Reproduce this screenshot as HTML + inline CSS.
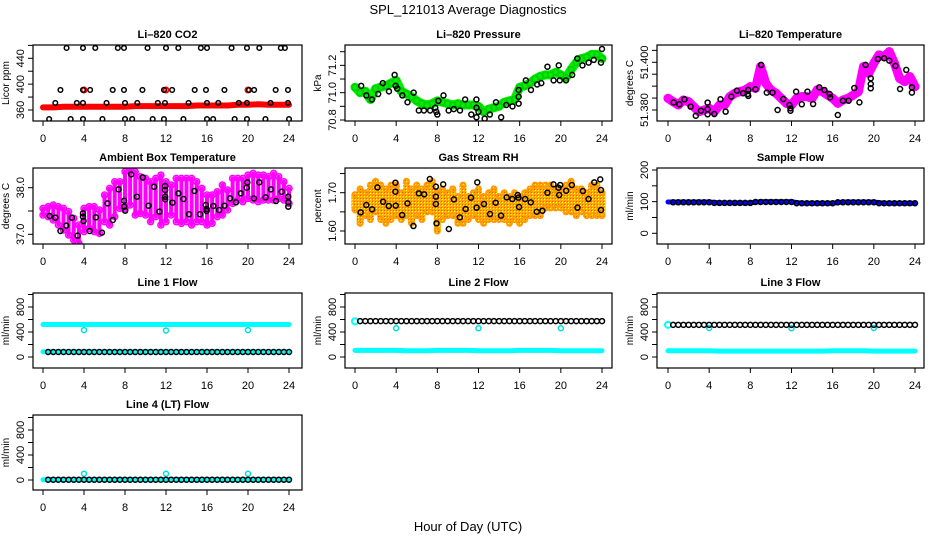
<!DOCTYPE html>
<html><head><meta charset="utf-8"><style>
html,body{margin:0;padding:0;background:#fff;}
svg{display:block;font-family:"Liberation Sans",Arial,sans-serif;}
</style></head><body>
<svg id="chart" width="936" height="540" viewBox="0 0 936 540" xmlns="http://www.w3.org/2000/svg">
<defs>
<pattern id="rhpat" width="3" height="3" patternUnits="userSpaceOnUse"><rect width="3" height="3" fill="#ffaa00"/><rect x="1" y="1" width="1" height="1" fill="#ffff33"/><rect x="0" y="0" width="1" height="1" fill="#ff5500"/></pattern>
</defs>
<text x="468" y="14" text-anchor="middle" font-size="13">SPL_121013  Average Diagnostics</text>
<text x="468" y="531" text-anchor="middle" font-size="13">Hour of Day (UTC)</text>
</svg>
<script>
// ---------- data ----------
const xTicks = [0,4,8,12,16,20,24];
// CO2
const co2RedT = [0,1,2,3,4,5,6,7,8,9,10,11,12,13,14,15,16,17,18,19,20,21,22,23,24];
const co2RedV = [364,364,365,365,365,365,365,365,365,366,366,366,366,366,366,367,367,367,367,368,368,369,368,368,368];
const co2RedSpikeT = [4,12,20];
const co2RedSpikeV = [391,391,391];
const co2BlackT = [0.6,2.7,3.9,5.8,8.0,8.7,10.7,11.8,13.7,16.0,16.6,18.7,19.9,21.7,24.0,
 1.2,3.3,3.9,6.2,8.0,9.2,11.2,11.9,14.2,16.0,17.1,19.1,19.9,22.2,23.9,
 1.7,3.9,4.6,6.8,7.9,9.7,11.8,12.6,14.8,15.9,17.7,20.1,20.6,22.7,23.9,
 2.3,3.9,5.1,7.3,7.9,10.2,12.0,13.2,15.4,16.0,18.4,19.9,21.1,23.2,23.6];
const co2BlackV = [346,346,346,346,346,346,346,346,346,346,346,346,346,346,346,
 371,371,371,371,371,371,371,371,371,371,371,371,371,371,371,
 391,391,391,391,391,391,391,391,391,391,391,391,391,391,391,
 456,456,456,456,456,456,456,456,456,456,456,456,456,456,456];
const co2Ticks = [360,380,400,420,440,460];
const co2Labels = ['360','','400','','440',''];
// Pressure
const presGreenT = [0,0.5,1,1.5,2,2.5,3,3.5,4,4.5,5,5.5,6,6.5,7,7.5,8,8.5,9,9.5,10,10.5,11,11.5,12,12.5,13,13.5,14,14.5,15,15.5,16,16.5,17,17.5,18,18.5,19,19.5,20,20.5,21,21.5,22,22.5,23,23.5,24];
const presGreenV = [71.04,71.0,71.01,70.95,71.03,71.04,71.05,71.07,71.09,71.01,70.99,70.97,70.94,70.92,70.91,70.92,70.94,70.93,70.92,70.91,70.92,70.91,70.91,70.91,70.90,70.86,70.88,70.89,70.90,70.93,70.94,70.95,71.04,71.05,71.07,71.10,71.12,71.13,71.13,71.15,71.13,71.11,71.17,71.22,71.25,71.26,71.28,71.28,71.25];
const presBlackT = [0.6,1.1,1.65,2.25,2.7,3.3,3.85,3.95,4.1,4.6,5.1,5.7,6.2,6.7,7.3,7.8,7.9,8.0,8.1,8.6,9.1,9.6,10.2,10.7,11.3,11.8,11.8,11.8,12.0,12.6,13.1,13.7,14.2,14.7,15.3,15.9,15.9,15.9,16.6,17.1,17.7,18.1,18.7,19.3,19.8,19.9,20.5,21.1,21.6,22.1,22.7,23.2,23.9,24.0];
const presBlackV = [71.05,70.98,70.95,70.99,71.07,71.01,71.13,71.05,71.03,70.98,70.93,71.0,70.87,70.87,70.87,70.89,70.86,70.84,70.94,70.98,70.87,70.88,70.87,70.95,70.84,70.95,70.89,70.82,70.86,70.81,70.84,70.93,70.82,70.91,70.90,70.97,70.92,71.02,71.09,71.02,71.06,71.07,71.19,71.09,71.20,71.09,71.09,71.13,71.25,71.20,71.22,71.24,71.22,71.32];
const presTicks = [70.8,70.9,71.0,71.1,71.2,71.3];
const presLabels = ['70.8','','71.0','','71.2',''];
// Li-820 temperature
const tempMagT = presGreenT;
const tempMagV = [51.3849,51.3835,51.3821,51.3842,51.3835,51.3814,51.3793,51.38,51.3807,51.3793,51.3821,51.3821,51.3856,51.387,51.3877,51.3884,51.3898,51.3891,51.3982,51.3912,51.3884,51.387,51.3849,51.3828,51.3821,51.3849,51.3856,51.3856,51.3849,51.3884,51.3877,51.3863,51.3849,51.3828,51.3842,51.3849,51.3863,51.3877,51.3982,51.3954,51.3996,51.4031,51.4024,51.4045,51.3996,51.3933,51.3919,51.394,51.3898];
const tempBlackT = [0.55,1.1,1.6,2.2,2.7,3.2,3.85,3.85,3.85,4.5,5.1,5.6,6.15,6.7,7.3,7.75,7.8,7.8,8.5,9.05,9.6,10.15,10.65,11.2,11.8,11.9,11.9,12.45,13.0,13.55,14.1,14.7,15.2,15.7,15.75,16.5,17.0,17.55,18.1,18.6,19.2,19.7,19.7,19.7,20.4,21.0,21.5,22.1,22.55,23.15,23.7,23.7];
const tempBlackV = [51.3832,51.3824,51.3845,51.3814,51.3776,51.3797,51.3831,51.3803,51.3782,51.3783,51.3845,51.3793,51.3856,51.3881,51.387,51.3867,51.3884,51.3859,51.3887,51.3989,51.3873,51.3873,51.38,51.3846,51.3821,51.3807,51.3797,51.3877,51.3824,51.3877,51.3825,51.3895,51.3884,51.3867,51.3853,51.3779,51.3839,51.3839,51.3892,51.3832,51.3989,51.3933,51.3909,51.3891,51.4014,51.4017,51.4007,51.3985,51.3888,51.3968,51.3895,51.3873];
const tempTicks = [51.380,51.385,51.390,51.395,51.400,51.405];
const tempLabels = ['51.380','','','','51.400',''];
// Ambient box temperature
const ambT = presGreenT;
const ambHi = [37.557,37.593,37.629,37.593,37.557,37.486,37.343,37.2,37.557,37.593,37.593,37.521,37.843,37.986,38.129,38.129,38.343,38.4,38.343,38.236,38.2,38.129,38.2,38.271,38.129,38.057,38.2,38.2,38.2,38.2,38.129,37.986,37.843,37.843,37.914,38.057,37.95,38.2,38.2,38.2,38.271,38.307,38.271,38.271,38.236,38.307,38.236,38.129,37.986];
const ambLo = [37.414,37.379,37.307,37.2,37.093,36.986,36.879,36.807,37.057,37.129,37.057,37.021,37.271,37.2,37.379,37.557,37.557,37.629,37.414,37.45,37.414,37.271,37.379,37.2,37.271,37.414,37.271,37.236,37.271,37.2,37.271,37.271,37.2,37.236,37.379,37.414,37.521,37.664,37.736,37.7,37.771,37.736,37.7,37.736,37.736,37.736,37.771,37.736,37.664];
const ambBlackT = [0.65,1.2,1.7,2.27,2.82,3.38,3.9,3.9,3.96,4.55,5.16,5.75,6.3,6.82,7.37,7.92,7.92,8.02,8.6,9.16,9.74,10.3,10.84,11.36,11.92,11.92,11.92,11.92,12.63,13.21,13.7,14.25,14.77,15.32,15.88,15.97,15.97,16.62,17.18,17.7,18.25,18.83,19.3,19.87,19.94,20.58,21.1,21.72,22.24,22.73,23.28,23.93,23.93,23.93];
const ambBlackV = [37.393,37.357,37.071,37.186,37.357,36.971,37.45,37.379,37.286,37.071,37.364,37.036,37.664,37.307,37.964,37.721,37.593,37.507,38.286,37.807,38.221,37.614,38.021,37.486,38.036,37.95,37.807,37.75,37.679,37.879,37.757,37.429,37.929,37.429,37.629,37.543,37.5,37.607,37.521,37.614,37.771,37.686,37.879,38.0,38.114,37.771,38.114,37.793,37.964,37.714,37.914,37.807,37.686,37.593];
const ambTicks = [37.0,37.5,38.0];
const ambLabels = ['37.0','','38.0'];
// Gas stream RH
const rhT = presGreenT;
const rhHi = [1.695,1.71,1.70,1.72,1.73,1.72,1.71,1.72,1.72,1.70,1.73,1.71,1.72,1.71,1.72,1.73,1.70,1.71,1.70,1.71,1.69,1.72,1.69,1.70,1.71,1.69,1.70,1.71,1.69,1.70,1.69,1.70,1.69,1.70,1.71,1.72,1.72,1.72,1.72,1.71,1.71,1.72,1.73,1.71,1.71,1.70,1.72,1.72,1.70];
const rhLo = [1.655,1.62,1.64,1.63,1.65,1.63,1.62,1.63,1.64,1.63,1.64,1.62,1.64,1.63,1.65,1.65,1.60,1.63,1.64,1.64,1.62,1.62,1.63,1.64,1.63,1.62,1.63,1.63,1.63,1.63,1.62,1.63,1.62,1.63,1.64,1.64,1.64,1.66,1.66,1.66,1.66,1.65,1.65,1.64,1.65,1.64,1.64,1.64,1.64];
const rhBlackT = [0.55,1.1,1.66,2.18,2.73,3.28,3.93,3.93,3.96,4.58,5.1,5.68,6.2,6.72,7.27,7.86,7.86,7.86,7.92,8.57,9.12,9.61,10.19,10.75,11.27,11.82,11.88,12.53,13.12,13.67,14.19,14.74,15.29,15.81,15.88,15.94,16.53,17.08,17.66,18.21,18.7,19.29,19.77,19.84,19.94,20.52,21.07,21.62,22.14,22.69,23.25,23.83,23.9,23.9];
const rhBlackV = [1.6487,1.6678,1.6565,1.7139,1.6765,1.6652,1.7261,1.7026,1.6661,1.6417,1.6722,1.613,1.6983,1.6957,1.7357,1.7157,1.6896,1.6704,1.62,1.7217,1.6052,1.6826,1.6357,1.6574,1.687,1.6609,1.727,1.6704,1.6443,1.6739,1.64,1.6878,1.6835,1.6939,1.687,1.6626,1.6835,1.6748,1.6504,1.653,1.70,1.7217,1.713,1.6939,1.72,1.7052,1.72,1.6609,1.7043,1.6835,1.727,1.7348,1.707,1.6548];
const rhTicks = [1.60,1.65,1.70,1.75];
const rhLabels = ['1.60','','1.70',''];
// flows
const hourT = [0,1,2,3,4,5,6,7,8,9,10,11,12,13,14,15,16,17,18,19,20,21,22,23,24];
const flowT = [0.5,1,1.5,2,2.5,3,3.5,4,4.5,5,5.5,6,6.5,7,7.5,8,8.5,9,9.5,10,10.5,11,11.5,12,12.5,13,13.5,14,14.5,15,15.5,16,16.5,17,17.5,18,18.5,19,19.5,20,20.5,21,21.5,22,22.5,23,23.5,24];
const sampleBlue = [99,99,99,99,99,96,96,96,96,100,100,100,100,95,95,95,95,99,99,99,99,95,95,95,95];
const sampleBlack = [98,98,98,98,98,98,98,98,96,96,96,96,96,96,96,96,99,99,99,99,99,99,99,99,95,95,95,95,95,95,95,95,98,98,98,98,98,98,98,98,95,95,95,95,95,95,95,95];
const sampleTicks = [0,50,100,150,200];
const sampleLabels = ['0','','100','','200'];
const flowTicks = [0,200,400,600,800,1000];
const flowLabels = ['0','','400','','800',''];
const dipT = [4,12,20];
const line1CyanHi = [520,520,520,520,520,520,520,520,520,520,520,520,520,520,520,520,520,520,520,520,520,520,520,520,520];
const line1CyanLo = [85,85,85,85,85,85,85,85,85,85,85,85,85,85,85,85,85,85,85,85,85,85,85,85,85];
const line1Dip = [430,425,430];
const line1Black = [80,80,80,80,80,80,80,80,80,80,80,80,80,80,80,80,80,80,80,80,80,80,80,80,80,80,80,80,80,80,80,80,80,80,80,80,80,80,80,80,80,80,80,80,80,80,80,80];
const line2CyanLo = [105,105,105,105,105,100,100,100,105,105,105,105,100,100,100,100,105,105,105,105,100,100,100,100,100];
const line2Start = [570];
const line2Dip = [460,460,460];
const line2Black = [575,575,575,575,575,575,575,575,575,575,575,575,575,575,575,575,575,575,575,575,575,575,575,575,575,575,575,575,575,575,575,575,575,575,575,575,575,575,575,575,575,575,575,575,575,575,575,575];
const line3CyanLo = [100,100,100,100,100,95,95,95,95,95,95,95,95,95,95,95,100,100,100,100,95,95,95,95,95];
const line3Start = [515];
const line3Dip = [465,460,465];
const line3Black = [515,515,515,515,515,515,515,515,515,515,515,515,515,515,515,515,515,515,515,515,515,515,515,515,515,515,515,515,515,515,515,515,515,515,515,515,515,515,515,515,515,515,515,515,515,515,515,515];
const line4Cyan = [5,5,5,5,5,5,5,5,5,5,5,5,5,5,5,5,5,5,5,5,5,5,5,5,5];
const line4Peak = [100,100,100];
const line4Black = [5,5,5,5,5,5,5,5,5,5,5,5,5,5,5,5,5,5,5,5,5,5,5,5,5,5,5,5,5,5,5,5,5,5,5,5,5,5,5,5,5,5,5,5,5,5,5,5];

// ---------- layout ----------
const NS = 'http://www.w3.org/2000/svg';
const svg = document.getElementById('chart');
const cols = [{l:33,r:302,x0:43,x24:289},{l:345,r:612,x0:355,x24:602},{l:657,r:924,x0:668,x24:915}];
const rows = [{t:45,b:121},{t:168,b:244},{t:293,b:368},{t:415,b:490}];

function mk(tag, attrs, parent){
  const el = document.createElementNS(NS, tag);
  for (const k in attrs) el.setAttribute(k, attrs[k]);
  (parent||svg).appendChild(el);
  return el;
}

function panel(name, title, ylab, c, r, v1, y1, v2, y2, ticks, labels){
  const C = cols[c], R = rows[r];
  const g = mk('g', {});
  
  
  const xs = h => C.x0 + (C.x24 - C.x0) * h / 24;
  const ys = v => y1 + (v - v1) * (y2 - y1) / (v2 - v1);
  const clip = 'clip-' + name;
  const cp = mk('clipPath', {id: clip}, g);
  mk('rect', {x: C.l, y: R.t, width: C.r - C.l, height: R.b - R.t}, cp);
  const data = mk('g', {'clip-path': 'url(#' + clip + ')'}, g);
  
  
  const frame = mk('rect', {x: C.l, y: R.t, width: C.r - C.l, height: R.b - R.t, fill: 'none', stroke: '#000', 'stroke-width': 1.2}, g);
  
  
  const t = mk('text', {x: (C.l + C.r) / 2, y: R.t - 7, 'text-anchor': 'middle', 'font-size': 11, 'font-weight': 'bold'}, g);
  t.textContent = title;
  
  
  const yl = mk('text', {transform: 'translate(' + (C.l - 24) + ',' + ((R.t + R.b) / 2) + ') rotate(-90)', 'text-anchor': 'middle', 'font-size': 10}, g);
  yl.textContent = ylab;
  
  
  xTicks.forEach(h => {
    const x = xs(h);
    const tk = mk('line', {x1: x, x2: x, y1: R.b, y2: R.b + 5, stroke: '#000'}, g);
    
    
    const lb = mk('text', {x: x, y: R.b + 21, 'text-anchor': 'middle', 'font-size': 11}, g);
    lb.textContent = h;
    
    
  });
  ticks.forEach((v, i) => {
    const y = ys(v);
    if (y < R.t - 0.5 || y > R.b + 0.5) return;
    const tk = mk('line', {x1: C.l - 5, x2: C.l, y1: y, y2: y, stroke: '#000'}, g);
    
    
    if (labels[i]) {
      const lb = mk('text', {transform: 'translate(' + (C.l - 9) + ',' + y + ') rotate(-90)', 'text-anchor': 'middle', 'font-size': 11}, g);
      lb.textContent = labels[i];
      
      
    }
  });
  return {g: data, xs, ys};
}

function pts(P, T, V, color, rad, sw, nm){
  T.forEach((h, i) => {
    const el = mk('circle', {cx: P.xs(h), cy: P.ys(V[i]), r: rad, fill: 'none', stroke: color, 'stroke-width': sw}, P.g);
    
    
  });
}
function band(P, T, V, color, w, nm){
  const d = T.map((h, i) => (i ? 'L' : 'M') + P.xs(h).toFixed(1) + ',' + P.ys(V[i]).toFixed(1)).join('');
  const el = mk('path', {d: d, fill: 'none', stroke: color, 'stroke-width': w, 'stroke-linejoin': 'round', 'stroke-linecap': 'round'}, P.g);
  
  
}
function range(P, T, H, L, color, w, nm){
  T.forEach((h, i) => {
    const el = mk('line', {x1: P.xs(h), x2: P.xs(h), y1: P.ys(H[i]), y2: P.ys(L[i]), stroke: color, 'stroke-width': w, 'stroke-linecap': 'round'}, P.g);
    
    
  });
}

// CO2
let P = panel('co2-panel', 'Li\u2013820 CO2', 'Licor ppm', 0, 0, 360, 110, 440, 58.3, co2Ticks, co2Labels);
band(P, co2RedT, co2RedV, '#ff0000', 6, 'co2-red-series');
pts(P, co2RedSpikeT, co2RedSpikeV, '#ff0000', 2.5, 2, 'co2-red-point');
pts(P, co2BlackT, co2BlackV, '#000', 2.3, 1.5, 'co2-black-point');

// Pressure
P = panel('pressure-panel', 'Li\u2013820 Pressure', 'kPa', 1, 0, 70.8, 120, 71.3, 51.7, presTicks, presLabels);
band(P, presGreenT, presGreenV, '#00ee00', 9, 'pressure-green-band');
pts(P, presGreenT, presGreenV, '#00cc00', 3, 1.5, 'pressure-green-point');
pts(P, presBlackT, presBlackV, '#000', 2.5, 1.5, 'pressure-black-point');

// Temperature
P = panel('li820-temp-panel', 'Li\u2013820 Temperature', 'degrees C', 2, 0, 51.38, 110, 51.40, 62.3, tempTicks, tempLabels);
band(P, tempMagT, tempMagV, '#ff00ff', 9, 'temp-magenta-band');
pts(P, tempMagT, tempMagV, '#ff00ff', 3.5, 2, 'temp-magenta-point');
pts(P, tempBlackT, tempBlackV, '#000', 2.5, 1.5, 'temp-black-point');

// Ambient
P = panel('ambient-panel', 'Ambient Box Temperature', 'degrees C', 0, 1, 37.0, 234.3, 38.0, 187.7, ambTicks, ambLabels);
range(P, ambT, ambHi, ambLo, '#ff00ff', 4, 'ambient-magenta-range');
pts(P, ambT, ambHi, '#ff00ff', 3, 1.5, 'ambient-magenta-point');
pts(P, ambT, ambLo, '#ff00ff', 3, 1.5, 'ambient-magenta-point');
pts(P, ambBlackT, ambBlackV, '#000', 2.5, 1.5, 'ambient-black-point');

// RH
P = panel('rh-panel', 'Gas Stream RH', 'percent', 1, 1, 1.60, 231, 1.70, 192.7, rhTicks, rhLabels);
range(P, rhT, rhHi, rhLo, 'url(#rhpat)', 7, 'rh-orange-range');
pts(P, rhT, rhHi, '#ff9900', 2.5, 1.5, 'rh-orange-point');
pts(P, rhT, rhLo, '#ff9900', 2.5, 1.5, 'rh-orange-point');
pts(P, rhBlackT, rhBlackV, '#000', 2.5, 1.5, 'rh-black-point');

// Sample flow
P = panel('sample-flow-panel', 'Sample Flow', 'ml/min', 2, 1, 0, 233.3, 200, 170, sampleTicks, sampleLabels);
band(P, hourT, sampleBlue, '#0000ff', 5, 'sample-flow-blue-band');
pts(P, flowT, sampleBlack, '#000', 2.5, 1.5, 'sample-flow-black-point');

// Line flows
function flowPanel(name, title, c, r, zeroY){
  return panel(name, title, 'ml/min', c, r, 0, zeroY, 400, zeroY - 25, flowTicks, flowLabels);
}
P = flowPanel('line1-flow-panel', 'Line 1 Flow', 0, 2, 357);
band(P, hourT, line1CyanHi, '#00ffff', 5, 'line1-cyan-high');
band(P, hourT, line1CyanLo, '#00ffff', 5, 'line1-cyan-low');
pts(P, dipT, line1Dip, '#00dddd', 2.5, 1.5, 'line1-cyan-dip');
pts(P, flowT, line1Black, '#000', 2.5, 1.5, 'line1-black-point');

P = flowPanel('line2-flow-panel', 'Line 2 Flow', 1, 2, 357);
band(P, hourT, line2CyanLo, '#00ffff', 5, 'line2-cyan-low');
pts(P, [0], line2Start, '#00ffff', 3, 2, 'line2-cyan-start');
pts(P, dipT, line2Dip, '#00dddd', 2.5, 1.5, 'line2-cyan-dip');
pts(P, flowT, line2Black, '#000', 2.5, 1.5, 'line2-black-point');

P = flowPanel('line3-flow-panel', 'Line 3 Flow', 2, 2, 357);
band(P, hourT, line3CyanLo, '#00ffff', 5, 'line3-cyan-low');
pts(P, [0], line3Start, '#00ffff', 3, 2, 'line3-cyan-start');
pts(P, dipT, line3Dip, '#00dddd', 2.5, 1.5, 'line3-cyan-dip');
pts(P, flowT, line3Black, '#000', 2.5, 1.5, 'line3-black-point');

P = flowPanel('line4-flow-panel', 'Line 4 (LT) Flow', 0, 3, 480);
band(P, hourT, line4Cyan, '#00ffff', 5, 'line4-cyan');
pts(P, dipT, line4Peak, '#00dddd', 2.5, 1.5, 'line4-cyan-peak');
pts(P, flowT, line4Black, '#000', 2.5, 1.5, 'line4-black-point');
</script>
</body></html>
